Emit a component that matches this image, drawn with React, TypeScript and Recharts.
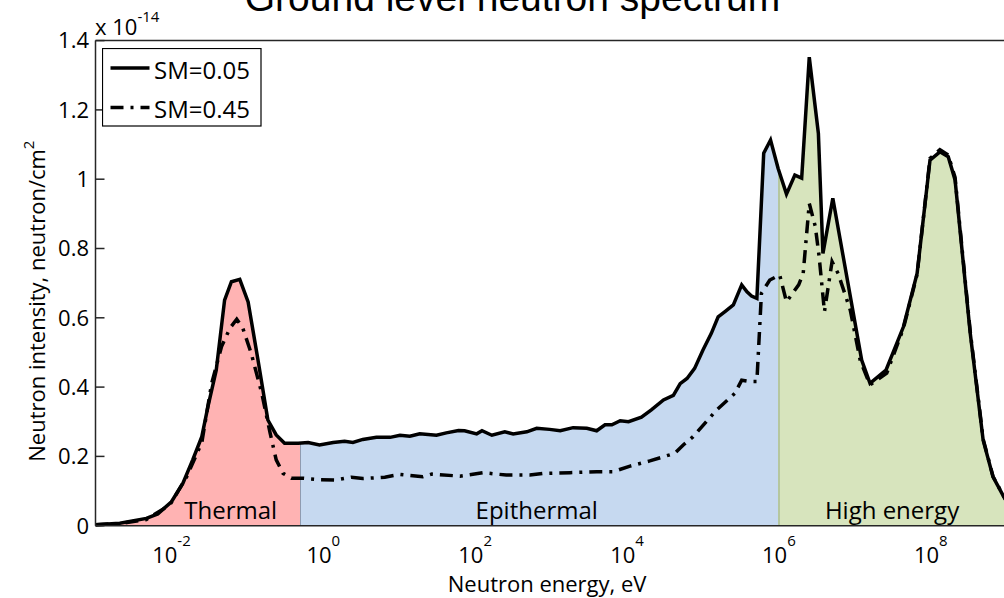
import { ComposedChart, Area, Line, XAxis, YAxis, Legend, Label } from "recharts"

// energies as log10(E / eV), intensities in units of 1e-14 neutron/cm^2
const sm005Exp = [
    -3.0, -2.68, -2.33, -2.18, -2.0, -1.85, -1.72, -1.6, -1.52, -1.41, -1.3, -1.21, -1.1, -0.99, -0.86, -0.73,
    -0.62, -0.51, -0.33, -0.2, -0.05, 0.13, 0.28, 0.39, 0.52, 0.7, 0.88, 1.01, 1.14, 1.27, 1.49, 1.62, 1.78, 1.86,
    2.02, 2.09, 2.22, 2.39, 2.5, 2.68, 2.81, 2.98, 3.12, 3.29, 3.47, 3.6, 3.71, 3.8, 3.91, 4.02, 4.19, 4.32, 4.48,
    4.61, 4.7, 4.79, 4.89, 5.0, 5.11, 5.2, 5.29, 5.4, 5.51, 5.58, 5.64, 5.71, 5.8, 5.89, 5.99, 6.1, 6.21, 6.3, 6.4,
    6.52, 6.58, 6.71, 7.09, 7.2, 7.41, 7.64, 7.82, 7.99, 8.12, 8.23, 8.32, 8.52, 8.69, 8.82, 8.96, 9.0,
]
const sm005Val = [
    0.003, 0.007, 0.021, 0.034, 0.069, 0.122, 0.19, 0.257, 0.343, 0.449, 0.651, 0.704, 0.711, 0.646, 0.478, 0.305,
    0.262, 0.238, 0.238, 0.24, 0.233, 0.24, 0.244, 0.24, 0.249, 0.255, 0.255, 0.261, 0.258, 0.265, 0.261, 0.268,
    0.275, 0.274, 0.265, 0.274, 0.261, 0.271, 0.265, 0.271, 0.281, 0.278, 0.274, 0.283, 0.281, 0.274, 0.291, 0.291,
    0.303, 0.3, 0.313, 0.334, 0.363, 0.376, 0.41, 0.425, 0.454, 0.507, 0.555, 0.603, 0.618, 0.637, 0.695, 0.675,
    0.663, 0.656, 1.075, 1.113, 1.031, 0.957, 1.012, 1.003, 1.352, 1.132, 0.786, 0.945, 0.478, 0.411, 0.449, 0.574,
    0.728, 1.055, 1.079, 1.065, 0.998, 0.555, 0.247, 0.141, 0.084, 0.07,
]

const sm045Exp = [
    -3.0, -2.68, -2.33, -2.02, -1.8, -1.6, -1.47, -1.34, -1.23, -1.14, -1.06, -0.95, -0.81, -0.7, -0.62, -0.53,
    -0.42, -0.27, -0.05, 0.17, 0.37, 0.52, 0.81, 1.01, 1.31, 1.43, 1.8, 2.11, 2.41, 2.72, 2.9, 3.25, 3.6, 3.82,
    4.04, 4.3, 4.48, 4.63, 4.74, 4.87, 5.18, 5.42, 5.51, 5.62, 5.71, 5.77, 5.88, 6.01, 6.1, 6.26, 6.32, 6.4, 6.48,
    6.53, 6.6, 6.7, 6.78, 6.94, 7.07, 7.2, 7.42, 7.64, 7.82, 7.99, 8.12, 8.23, 8.32, 8.52, 8.69, 8.82, 8.96, 9.0,
]
const sm045Val = [
    0.003, 0.006, 0.018, 0.06, 0.141, 0.24, 0.411, 0.517, 0.57, 0.596, 0.57, 0.498, 0.382, 0.267, 0.19, 0.151,
    0.137, 0.137, 0.133, 0.132, 0.14, 0.136, 0.14, 0.148, 0.141, 0.149, 0.143, 0.153, 0.146, 0.146, 0.151, 0.153,
    0.156, 0.156, 0.172, 0.187, 0.199, 0.209, 0.233, 0.257, 0.334, 0.382, 0.42, 0.416, 0.416, 0.671, 0.709, 0.724,
    0.646, 0.695, 0.728, 0.93, 0.863, 0.776, 0.618, 0.762, 0.728, 0.622, 0.478, 0.406, 0.44, 0.57, 0.725, 1.06,
    1.085, 1.07, 1.005, 0.56, 0.25, 0.142, 0.085, 0.07,
]

const xTickExp = [-2, 0, 2, 4, 6, 8]
const yTicks = [0, 0.2, 0.4, 0.6, 0.8, 1, 1.2, 1.4]
const regionNames = ["Thermal", "Epithermal", "High energy"]
const regionEdges = [1e-3, 0.5, 1e6, 1e9]
const regionLabelExp = [-1.22, 2.81, 7.49]
const regionColors = ["#ffb3b3", "#c6d9f0", "#d7e4bd"]
const seriesNames = ["SM=0.05", "SM=0.45"]

const FONT = '"Open Sans", sans-serif'
const DASH = "13 7 3 7"
const AXIS = "#262626"

const toRows = (exps: number[], vals: number[]) => exps.map((e, i) => ({ energy: 10 ** e, value: vals[i] }))
const sm005 = toRows(sm005Exp, sm005Val)
const sm045 = toRows(sm045Exp, sm045Val)

const logMin = Math.log10(regionEdges[0])
const logSpan = Math.log10(regionEdges[3]) - logMin
const frac = (e: number) => (Math.log10(e) - logMin) / logSpan

function XTick({ x, y, payload }: any) {
    const exp = Math.round(Math.log10(payload.value))
    return (
        <text x={x} y={y + 37} textAnchor="middle" fontFamily={FONT} fill="#000">
            <tspan fontSize={22}>10</tspan>
            <tspan fontSize={15} dy={-17}>{exp}</tspan>
        </text>
    )
}

function LegendBox({ payload }: any) {
    const items = (payload ?? []).length ? payload : seriesNames.map((n) => ({ value: n }))
    return (
        <svg width={160} height={79} style={{ display: "block" }}>
            <rect x={0.5} y={0.5} width={158.5} height={77.5} fill="#fff" stroke="#000" strokeWidth={1.2} />
            {items.map((item: any, i: number) => {
                const cy = 20 + i * 39.6
                return (
                    <g key={item.value}>
                        <line
                            x1={8.5}
                            x2={47.5}
                            y1={cy}
                            y2={cy}
                            stroke="#000"
                            strokeWidth={3.5}
                            strokeDasharray={i === 1 ? DASH : undefined}
                        />
                        <text x={52} y={cy + 10.5} fontFamily={FONT} fontSize={24} fill="#000">
                            {item.value}
                        </text>
                    </g>
                )
            })}
        </svg>
    )
}

// x label plus the region names, placed along the log axis
function BottomLabels({ viewBox }: any) {
    const { x, y, width } = viewBox
    return (
        <g>
            {regionNames.map((name, i) => (
                <text
                    key={name}
                    x={x + frac(10 ** regionLabelExp[i]) * width}
                    y={y - 6.7}
                    textAnchor="middle"
                    fontFamily={FONT}
                    fontSize={24}
                    fill="#000"
                >
                    {name}
                </text>
            ))}
            <text x={x + width / 2 - 4} y={y + 66} textAnchor="middle" fontFamily={FONT} fontSize={22} fill="#000">
                Neutron energy, eV
            </text>
        </g>
    )
}

function LeftLabels({ viewBox }: any) {
    const cx = viewBox.x + 9.5
    const cy = viewBox.y + viewBox.height / 2 + 18
    return (
        <g>
            <text x={512.5} y={11} textAnchor="middle" fontFamily='"Liberation Sans", Arial, sans-serif' fontSize={39} fill="#000">
                Ground level neutron spectrum
            </text>
            <text x={viewBox.x + viewBox.width - 0.5} y={35} fontFamily={FONT} fill="#000">
                <tspan fontSize={22}>x 10</tspan>
                <tspan fontSize={15} dy={-13}>-14</tspan>
            </text>
            <text x={cx} y={cy} transform={`rotate(-90 ${cx} ${cy})`} textAnchor="middle" fontFamily={FONT} fontSize={22} fill="#000">
                Neutron intensity, neutron/cm
                <tspan fontSize={15} dy={-11}>2</tspan>
            </text>
        </g>
    )
}

export default function App() {
    const tStart = frac(regionEdges[1])
    const hStart = frac(regionEdges[2])
    const band = 0.0007

    return (
        <div style={{ position: "absolute", left: 0, top: 0, width: 1004, height: 598, overflow: "hidden", background: "#fff" }}>
            <ComposedChart width={1010} height={598} margin={{ top: 39.6, right: 2.3, bottom: 12.3, left: 35.5 }}>
                <defs>
                    <linearGradient id="regions" x1="0" x2="1" y1="0" y2="0">
                        <stop offset={0} stopColor={regionColors[0]} />
                        <stop offset={tStart - band} stopColor={regionColors[0]} />
                        <stop offset={tStart - band} stopColor="#8f9bb0" />
                        <stop offset={tStart + band} stopColor="#8f9bb0" />
                        <stop offset={tStart + band} stopColor={regionColors[1]} />
                        <stop offset={hStart - band} stopColor={regionColors[1]} />
                        <stop offset={hStart - band} stopColor="#b5c79f" />
                        <stop offset={hStart + band} stopColor="#b5c79f" />
                        <stop offset={hStart + band} stopColor={regionColors[2]} />
                        <stop offset={1} stopColor={regionColors[2]} />
                    </linearGradient>
                </defs>
                <XAxis
                    dataKey="energy"
                    type="number"
                    scale="log"
                    domain={[regionEdges[0], regionEdges[3]]}
                    allowDataOverflow
                    ticks={xTickExp.map((e) => 10 ** e)}
                    tick={<XTick />}
                    tickLine={false}
                    tickSize={-9}
                    tickMargin={9}
                    height={60}
                    stroke={AXIS}
                    strokeWidth={1.5}
                >
                    <Label content={<BottomLabels />} />
                </XAxis>
                <XAxis
                    xAxisId="top"
                    orientation="top"
                    dataKey="energy"
                    type="number"
                    scale="log"
                    domain={[regionEdges[0], regionEdges[3]]}
                    allowDataOverflow
                    ticks={xTickExp.map((e) => 10 ** e)}
                    tick={false}
                    tickSize={-9}
                    height={1}
                    stroke={AXIS}
                    strokeWidth={1.5}
                />
                <YAxis
                    type="number"
                    domain={[0, 1.4]}
                    ticks={yTicks}
                    tickFormatter={(v: number) => String(Number(v.toFixed(1)))}
                    tick={{ fontSize: 22, fontFamily: FONT, fill: "#000" }}
                    tickSize={-9}
                    tickMargin={15.5}
                    width={60}
                    stroke={AXIS}
                    strokeWidth={1.5}
                >
                    <Label content={<LeftLabels />} />
                </YAxis>
                <YAxis
                    yAxisId="right"
                    orientation="right"
                    type="number"
                    domain={[0, 1.4]}
                    ticks={yTicks}
                    tick={false}
                    tickSize={-9}
                    width={1}
                    stroke={AXIS}
                    strokeWidth={1.5}
                />
                <Area
                    data={sm005}
                    dataKey="value"
                    name={seriesNames[0]}
                    type="linear"
                    stroke="#000"
                    strokeWidth={3.5}
                    fill="url(#regions)"
                    fillOpacity={1}
                    isAnimationActive={false}
                />
                <Line
                    data={sm045}
                    xAxisId="top"
                    yAxisId="right"
                    dataKey="value"
                    name={seriesNames[1]}
                    type="linear"
                    stroke="#000"
                    strokeWidth={3.5}
                    strokeDasharray={DASH}
                    dot={false}
                    isAnimationActive={false}
                />
                <Legend
                    layout="vertical"
                    align="center"
                    verticalAlign="middle"
                    wrapperStyle={{ left: 101.7, top: 47.7, width: 160 }}
                    content={(props: any) => <LegendBox payload={props.payload} />}
                />
            </ComposedChart>
        </div>
    )
}
